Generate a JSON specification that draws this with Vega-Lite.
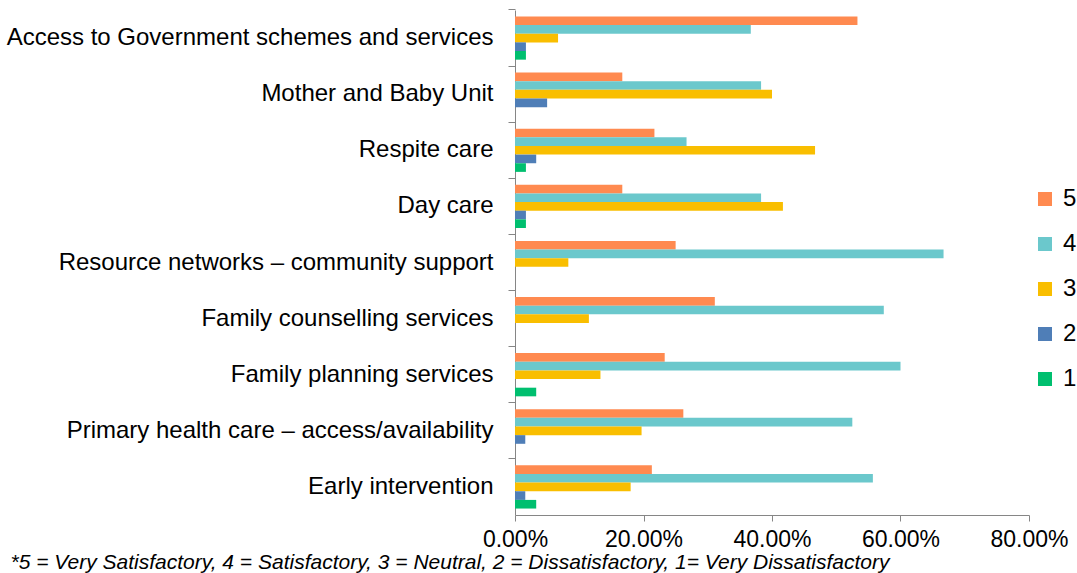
{
  "$schema": "https://vega.github.io/schema/vega-lite/v6.json",
  "autosize": {"type": "none"},
  "width": 514,
  "height": 505,
  "padding": {"left": 515, "top": 10, "right": 48, "bottom": 58},
  "background": "white",
  "config": {"view": {"stroke": null}, "font": "Liberation Sans"},
  "data": {
    "values": [
      {"cat": "Access to Government schemes and services", "rating": "5", "value": 0.533},
      {"cat": "Access to Government schemes and services", "rating": "4", "value": 0.367},
      {"cat": "Access to Government schemes and services", "rating": "3", "value": 0.067},
      {"cat": "Access to Government schemes and services", "rating": "2", "value": 0.017},
      {"cat": "Access to Government schemes and services", "rating": "1", "value": 0.017},
      {"cat": "Mother and Baby Unit", "rating": "5", "value": 0.167},
      {"cat": "Mother and Baby Unit", "rating": "4", "value": 0.383},
      {"cat": "Mother and Baby Unit", "rating": "3", "value": 0.4},
      {"cat": "Mother and Baby Unit", "rating": "2", "value": 0.05},
      {"cat": "Respite care", "rating": "5", "value": 0.217},
      {"cat": "Respite care", "rating": "4", "value": 0.267},
      {"cat": "Respite care", "rating": "3", "value": 0.467},
      {"cat": "Respite care", "rating": "2", "value": 0.033},
      {"cat": "Respite care", "rating": "1", "value": 0.017},
      {"cat": "Day care", "rating": "5", "value": 0.167},
      {"cat": "Day care", "rating": "4", "value": 0.383},
      {"cat": "Day care", "rating": "3", "value": 0.417},
      {"cat": "Day care", "rating": "2", "value": 0.017},
      {"cat": "Day care", "rating": "1", "value": 0.017},
      {"cat": "Resource networks – community support", "rating": "5", "value": 0.25},
      {"cat": "Resource networks – community support", "rating": "4", "value": 0.667},
      {"cat": "Resource networks – community support", "rating": "3", "value": 0.083},
      {"cat": "Family counselling services", "rating": "5", "value": 0.311},
      {"cat": "Family counselling services", "rating": "4", "value": 0.574},
      {"cat": "Family counselling services", "rating": "3", "value": 0.115},
      {"cat": "Family planning services", "rating": "5", "value": 0.233},
      {"cat": "Family planning services", "rating": "4", "value": 0.6},
      {"cat": "Family planning services", "rating": "3", "value": 0.133},
      {"cat": "Family planning services", "rating": "1", "value": 0.033},
      {"cat": "Primary health care – access/availability", "rating": "5", "value": 0.262},
      {"cat": "Primary health care – access/availability", "rating": "4", "value": 0.525},
      {"cat": "Primary health care – access/availability", "rating": "3", "value": 0.197},
      {"cat": "Primary health care – access/availability", "rating": "2", "value": 0.016},
      {"cat": "Early intervention", "rating": "5", "value": 0.213},
      {"cat": "Early intervention", "rating": "4", "value": 0.557},
      {"cat": "Early intervention", "rating": "3", "value": 0.18},
      {"cat": "Early intervention", "rating": "2", "value": 0.016},
      {"cat": "Early intervention", "rating": "1", "value": 0.033}
    ]
  },
  "mark": {"type": "bar"},
  "encoding": {
    "y": {
      "field": "cat",
      "type": "nominal",
      "sort": [
        "Access to Government schemes and services",
        "Mother and Baby Unit",
        "Respite care",
        "Day care",
        "Resource networks – community support",
        "Family counselling services",
        "Family planning services",
        "Primary health care – access/availability",
        "Early intervention"
      ],
      "scale": {"paddingInner": 0.23, "paddingOuter": 0.115},
      "axis": {
        "title": null,
        "labelFontSize": 24,
        "labelColor": "black",
        "labelLimit": 0,
        "domainColor": "#868686",
        "tickColor": "#868686",
        "tickSize": 7,
        "labelPadding": 15,
        "bandPosition": -0.15
      }
    },
    "yOffset": {
      "field": "rating",
      "type": "nominal",
      "sort": ["5", "4", "3", "2", "1"],
      "scale": {"paddingInner": 0, "paddingOuter": 0}
    },
    "x": {
      "field": "value",
      "type": "quantitative",
      "scale": {"domain": [0, 0.8]},
      "axis": {
        "title": "*5 = Very Satisfactory, 4 = Satisfactory, 3 = Neutral, 2 = Dissatisfactory, 1= Very Dissatisfactory",
        "titleX": -505,
        "titleY": 53,
        "titleAlign": "left",
        "titleBaseline": "alphabetic",
        "titleFontSize": 21,
        "titleFontStyle": "italic",
        "titleFontWeight": "normal",
        "titleColor": "black",
        "format": ".2%",
        "values": [0, 0.2, 0.4, 0.6, 0.8],
        "grid": false,
        "labelFontSize": 23,
        "labelColor": "black",
        "labelFlush": false,
        "labelOverlap": false,
        "domainColor": "#868686",
        "tickColor": "#868686",
        "tickSize": 6,
        "labelPadding": 7
      }
    },
    "color": {
      "field": "rating",
      "type": "nominal",
      "scale": {
        "domain": ["5", "4", "3", "2", "1"],
        "range": ["#FF8A50", "#6BC8CC", "#F9BE00", "#4F7EB7", "#00BF6F"]
      },
      "legend": {
        "title": null,
        "orient": "none",
        "legendX": 518,
        "legendY": 177,
        "symbolType": "square",
        "symbolSize": 196,
        "symbolStrokeWidth": 0,
        "labelFontSize": 24,
        "labelColor": "black",
        "labelOffset": 6,
        "rowPadding": 21
      }
    }
  }
}
